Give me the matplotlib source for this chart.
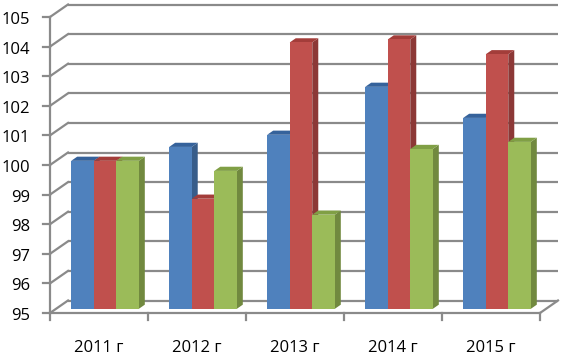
import matplotlib
matplotlib.use('Agg')
import matplotlib.pyplot as plt
from matplotlib.patches import Polygon

categories = ['2011 г', '2012 г', '2013 г', '2014 г', '2015 г']
series_blue = [100.0, 100.47, 100.88, 102.5, 101.45]
series_red = [100.0, 98.72, 104.0, 104.1, 103.6]
series_green = [100.0, 99.66, 98.18, 100.4, 100.64]
y_ticks = list(range(95, 106))

colors_front = ['#4F81BD', '#C0504D', '#9BBB59']
colors_side = ['#385D8A', '#8C3836', '#71893F']
colors_top = ['#35629B', '#A33D3A', '#809F45']
grid_color = '#8A8A8A'

plt.rcParams['font.family'] = ['Open Sans', 'DejaVu Sans']

W_PX, H_PX = 561, 355
fig = plt.figure(figsize=(W_PX / 100, H_PX / 100), dpi=100)
ax_l, ax_b, ax_w, ax_h = 50, 42, 490, 296
ax = fig.add_axes([ax_l / W_PX, ax_b / H_PX, ax_w / W_PX, ax_h / H_PX])
ncat = len(categories)
ymin, ymax = y_ticks[0], y_ticks[-1]
ax.set_xlim(0, ncat)
ax.set_ylim(ymin, ymax)
ax.axis('off')

px_x = ncat / ax_w
px_y = (ymax - ymin) / ax_h
DX = 18 * px_x
DY = 12.5 * px_y


def P(x, y, d):
    return (x + d * DX, y + d * DY)


lw = 1.6
fs = 12
# walls / gridlines
for y in y_ticks:
    ax.plot([P(0, y, 1)[0], P(ncat, y, 1)[0]], [P(0, y, 1)[1]] * 2,
            color=grid_color, lw=lw, clip_on=False, zorder=1, solid_capstyle='butt')
    ax.plot([0, P(0, y, 1)[0]], [y, P(0, y, 1)[1]],
            color=grid_color, lw=lw, clip_on=False, zorder=1)
    ax.plot([-7 * px_x, 0], [y, y], color=grid_color, lw=lw, clip_on=False, zorder=1)
    ax.text(-20 * px_x, y - 3 * px_y, str(y), ha='right', va='center',
            fontsize=fs, color='black')

# floor
ax.plot([0, ncat], [ymin, ymin], color=grid_color, lw=lw, clip_on=False, zorder=1)
ax.plot([ncat, P(ncat, ymin, 1)[0]], [ymin, P(ncat, ymin, 1)[1]],
        color=grid_color, lw=lw, clip_on=False, zorder=1)
ax.plot([0, 0], [ymin, ymax], color=grid_color, lw=lw, clip_on=False, zorder=1)
for i in range(ncat + 1):
    ax.plot([i, i], [ymin, ymin - 7 * px_y], color=grid_color, lw=lw,
            clip_on=False, zorder=1)
for i, c in enumerate(categories):
    ax.text(i + 0.5, ymin - 35 * px_y, c, ha='center', va='center',
            fontsize=fs, color='black')

# bars
W = 0.23
d0, d1 = 1 / 3, 2 / 3
series = [series_blue, series_red, series_green]
z = 2
for i in range(ncat):
    for j, s in enumerate(series):
        v = s[i]
        x0 = i + 0.5 + (j - 1.5) * W
        x1 = x0 + W
        side = Polygon([P(x1, ymin, d0), P(x1, v, d0), P(x1, v, d1), P(x1, ymin, d1)],
                       closed=True, facecolor=colors_side[j], edgecolor='none',
                       zorder=z, clip_on=False)
        ax.add_patch(side)
        top = Polygon([P(x0, v, d0), P(x1, v, d0), P(x1, v, d1), P(x0, v, d1)],
                      closed=True, facecolor=colors_top[j], edgecolor='none',
                      zorder=z, clip_on=False)
        ax.add_patch(top)
        ax.bar(P(x0, 0, d0)[0], v - ymin, bottom=P(0, ymin, d0)[1], width=W,
               align='edge', color=colors_front[j], edgecolor='none',
               zorder=z + 0.5, clip_on=False)
        z += 1

fig.savefig('out.png', dpi=100)
